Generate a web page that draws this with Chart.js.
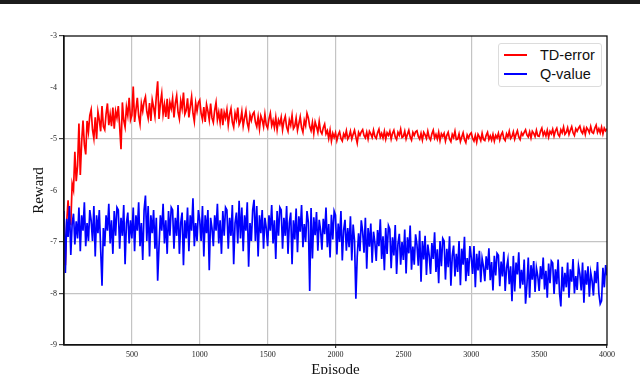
<!DOCTYPE html>
<html>
<head>
<meta charset="utf-8">
<script src="https://cdn.jsdelivr.net/npm/chart.js@4/dist/chart.umd.min.js"></script>
<style>
  body { margin: 0; background: #fff; }
  #wrap { position: relative; width: 640px; height: 374px; overflow: hidden; }
  #topbar { position: absolute; left: 0; top: 0; width: 640px; height: 4px; background: #1c1c1c; }
  #chart { position: absolute; left: 0; top: 0; }
  #legend {
    position: absolute; left: 498px; top: 43px; width: 102px; height: 42px;
    border: 1px solid #dcdcdc; border-radius: 3px; background: #fff;
    font-family: "Liberation Sans", Arial, sans-serif; font-size: 14.5px; color: #111;
  }
  .item { position: absolute; left: 5px; height: 18px; line-height: 18px; }
  .item span.swatch { position: absolute; left: 0; top: 8px; width: 23px; height: 2px; }
  .item span.label { position: absolute; left: 36px; white-space: nowrap; }
</style>
</head>
<body>
<div id="wrap">
  <canvas id="chart" width="640" height="374"></canvas>
  <div id="topbar"></div>
  <div id="legend">
    <div class="item" style="top:2px"><span class="swatch" style="background:#ff0000"></span><span class="label">TD-error</span></div>
    <div class="item" style="top:21px"><span class="swatch" style="background:#0000ff"></span><span class="label">Q-value</span></div>
  </div>
</div>
<script>
// Dados (uma amostra a cada 10 episódios, 0..4000)
const seriesNames = ['TD-error', 'Q-value'];
const episodeStep = 10;

// TD-error (linha vermelha), uma linha = 100 episódios
const tdError = [
  -6.73, -7.45, -6.61, -6.19, -6.63, -6.65, -5.87, -5.99, -5.25, -5.82,
  -5.52, -4.70, -5.70, -5.06, -4.64, -5.11, -5.30, -4.65, -4.86, -4.54,
  -4.43, -4.82, -4.99, -4.58, -5.00, -4.47, -4.63, -4.85, -4.36, -4.76,
  -4.82, -4.51, -4.31, -4.73, -4.52, -4.75, -4.39, -4.80, -4.46, -4.59,
  -4.36, -4.76, -5.20, -4.29, -4.64, -4.77, -4.38, -4.54, -4.20, -4.63,
  -4.54, -3.98, -4.67, -4.43, -4.20, -4.55, -4.71, -4.31, -4.46, -4.27,
  -4.18, -4.47, -4.60, -4.30, -4.65, -4.24, -4.38, -4.56, -4.17, -3.88,
  -4.61, -4.31, -4.12, -4.52, -4.33, -4.57, -4.22, -4.61, -4.29, -4.41,
  -4.21, -4.58, -4.31, -4.16, -4.48, -4.61, -4.26, -4.41, -4.10, -4.52,
  -4.45, -4.21, -4.58, -4.37, -4.18, -4.50, -4.66, -4.30, -4.46, -4.29,
  -4.24, -4.50, -4.62, -4.38, -4.67, -4.33, -4.46, -4.63, -4.31, -4.59,
  -4.68, -4.44, -4.29, -4.63, -4.48, -4.68, -4.41, -4.73, -4.48, -4.59,
  -4.43, -4.73, -4.52, -4.41, -4.67, -4.77, -4.50, -4.62, -4.39, -4.72,
  -4.65, -4.47, -4.75, -4.59, -4.45, -4.69, -4.80, -4.53, -4.64, -4.52,
  -4.48, -4.67, -4.76, -4.57, -4.80, -4.55, -4.63, -4.76, -4.52, -4.73,
  -4.79, -4.61, -4.50, -4.74, -4.64, -4.78, -4.58, -4.82, -4.63, -4.71,
  -4.58, -4.82, -4.65, -4.56, -4.77, -4.85, -4.63, -4.73, -4.54, -4.80,
  -4.75, -4.59, -4.83, -4.70, -4.57, -4.78, -4.87, -4.64, -4.74, -4.50,
  -4.59, -4.76, -4.84, -4.68, -4.89, -4.67, -4.76, -4.87, -4.66, -4.85,
  -4.90, -4.78, -4.71, -4.90, -4.84, -4.99, -4.83, -5.04, -4.89, -4.97,
  -4.88, -5.03, -4.92, -4.86, -4.99, -5.04, -4.90, -4.96, -4.84, -5.00,
  -4.95, -4.85, -5.00, -4.91, -4.83, -4.96, -5.08, -4.87, -4.93, -4.86,
  -4.82, -4.93, -4.98, -4.87, -5.00, -4.85, -4.90, -4.97, -4.83, -4.95,
  -4.99, -4.88, -4.81, -4.96, -4.89, -4.98, -4.85, -5.00, -4.88, -4.93,
  -4.85, -5.00, -4.89, -4.83, -4.96, -5.01, -4.87, -4.93, -4.81, -4.97,
  -4.95, -4.85, -5.00, -4.91, -4.83, -4.96, -5.02, -4.87, -4.93, -4.86,
  -4.84, -4.95, -5.00, -4.89, -5.02, -4.87, -4.92, -4.99, -4.85, -4.97,
  -5.02, -4.90, -4.83, -4.98, -4.91, -5.00, -4.87, -5.03, -4.90, -4.95,
  -4.89, -5.04, -4.93, -4.87, -5.00, -5.05, -4.91, -4.97, -4.85, -5.01,
  -5.00, -4.90, -5.05, -4.96, -4.88, -5.01, -5.07, -4.92, -4.98, -4.91,
  -4.88, -4.99, -5.04, -4.93, -5.06, -4.91, -4.96, -5.03, -4.89, -5.01,
  -5.03, -4.93, -4.87, -5.01, -4.94, -5.02, -4.91, -5.04, -4.93, -4.98,
  -4.89, -5.02, -4.92, -4.87, -4.99, -5.03, -4.90, -4.96, -4.85, -4.99,
  -4.95, -4.86, -5.00, -4.91, -4.84, -4.96, -5.01, -4.88, -4.93, -4.87,
  -4.82, -4.92, -4.96, -4.86, -4.98, -4.85, -4.89, -4.95, -4.83, -4.94,
  -4.95, -4.85, -4.79, -4.93, -4.86, -4.94, -4.83, -4.96, -4.85, -4.90,
  -4.81, -4.94, -4.84, -4.79, -4.91, -4.95, -4.82, -4.88, -4.77, -4.91,
  -4.87, -4.78, -4.91, -4.83, -4.76, -4.88, -4.93, -4.80, -4.85, -4.79,
  -4.75, -4.85, -4.89, -4.79, -4.91, -4.78, -4.82, -4.88, -4.76, -4.87,
  -4.89, -4.79, -4.73, -4.87, -4.80, -4.88, -4.77, -4.90, -4.79, -4.84,
  -4.80
];

// Q-value (linha azul), uma linha = 100 episódios
const qValue = [
  -6.40, -7.60, -6.55, -6.90, -6.30, -7.25, -6.65, -6.45, -7.05, -6.60,
  -6.93, -6.33, -7.18, -6.48, -6.78, -6.23, -7.08, -6.63, -6.98, -6.38,
  -6.58, -6.98, -6.30, -7.28, -6.48, -6.83, -6.38, -7.13, -7.85, -6.73,
  -7.08, -6.48, -6.78, -6.26, -7.03, -6.58, -7.23, -6.40, -6.88, -6.33,
  -6.38, -7.13, -6.53, -6.88, -6.28, -7.43, -6.63, -6.43, -7.03, -6.58,
  -6.93, -6.33, -7.18, -6.48, -6.78, -6.23, -7.08, -6.63, -7.35, -6.38,
  -6.10, -6.98, -6.30, -7.28, -6.48, -6.83, -6.38, -7.13, -6.53, -7.75,
  -7.08, -6.48, -6.78, -6.26, -7.03, -6.58, -7.23, -6.40, -6.88, -6.33,
  -6.38, -7.13, -6.53, -6.88, -6.28, -7.23, -6.63, -6.43, -7.45, -6.58,
  -6.93, -6.33, -7.18, -6.48, -6.78, -6.15, -7.08, -6.63, -6.98, -6.38,
  -6.58, -6.98, -6.30, -7.28, -6.48, -6.83, -6.38, -7.55, -6.53, -6.73,
  -7.08, -6.48, -6.78, -6.26, -7.03, -6.58, -7.23, -6.40, -6.88, -6.33,
  -6.38, -7.13, -6.53, -6.88, -6.28, -7.43, -6.63, -6.43, -7.03, -6.20,
  -6.93, -6.33, -7.18, -6.48, -6.78, -6.23, -7.48, -6.63, -6.98, -6.38,
  -6.18, -6.98, -6.30, -7.28, -6.48, -6.83, -6.38, -7.13, -6.53, -6.73,
  -7.08, -6.48, -6.78, -6.28, -7.03, -6.58, -7.33, -6.40, -6.88, -6.33,
  -6.38, -7.13, -6.53, -6.88, -6.30, -7.23, -6.63, -6.43, -7.43, -6.58,
  -6.95, -6.35, -7.20, -6.50, -6.80, -6.28, -7.10, -6.65, -7.00, -6.40,
  -6.62, -7.95, -6.34, -7.32, -6.52, -6.87, -6.42, -7.17, -6.57, -6.77,
  -7.15, -6.55, -6.85, -6.33, -7.10, -6.65, -7.30, -6.47, -6.95, -6.40,
  -6.48, -7.24, -6.64, -7.00, -6.40, -7.36, -6.77, -6.57, -7.17, -6.73,
  -7.10, -6.50, -7.36, -6.66, -6.97, -8.10, -7.28, -6.83, -7.18, -6.58,
  -6.80, -7.21, -6.53, -7.52, -6.73, -7.09, -6.64, -7.40, -6.80, -7.01,
  -7.37, -6.77, -7.08, -6.56, -7.33, -6.89, -7.55, -6.73, -7.23, -6.68,
  -6.75, -7.51, -6.91, -7.26, -6.67, -7.62, -7.04, -6.84, -7.44, -7.00,
  -7.35, -6.76, -7.61, -6.91, -7.22, -6.68, -7.54, -7.09, -7.44, -6.85,
  -7.05, -7.46, -6.78, -7.77, -6.98, -7.34, -6.88, -7.64, -7.05, -7.26,
  -7.62, -7.02, -7.33, -6.81, -7.58, -7.14, -7.80, -6.98, -7.47, -6.93,
  -6.98, -7.73, -7.13, -7.49, -6.89, -7.85, -7.27, -7.07, -7.67, -7.23,
  -7.58, -6.98, -7.84, -7.13, -7.44, -6.90, -7.76, -7.31, -7.66, -7.08,
  -7.30, -7.62, -7.08, -7.88, -7.23, -7.55, -7.17, -7.78, -7.32, -7.48,
  -7.76, -7.28, -7.54, -7.12, -7.74, -7.39, -7.94, -7.27, -7.65, -7.22,
  -7.26, -7.86, -7.38, -7.67, -7.19, -7.95, -7.50, -7.34, -7.82, -7.47,
  -8.15, -7.27, -7.96, -7.40, -7.63, -7.20, -7.90, -7.54, -7.83, -7.34,
  -8.20, -7.84, -7.30, -8.08, -7.45, -7.73, -7.37, -7.97, -7.50, -7.66,
  -7.95, -7.47, -7.72, -7.30, -7.92, -7.56, -8.08, -7.42, -7.80, -7.37,
  -7.41, -8.01, -7.53, -7.82, -7.34, -7.98, -8.25, -7.48, -7.96, -7.60,
  -7.88, -7.40, -8.08, -7.53, -7.77, -7.33, -8.00, -7.66, -7.93, -7.46,
  -7.62, -7.94, -7.40, -8.18, -7.55, -7.83, -7.47, -8.06, -7.59, -7.75,
  -8.04, -7.56, -7.80, -7.39, -8.00, -8.20, -8.14, -7.50, -7.88, -7.45,
  -7.65
];

// Eixos
const xTicks = [0, 500, 1000, 1500, 2000, 2500, 3000, 3500, 4000];
const xTickLabels = ['', '500', '1000', '1500', '2000', '2500', '3000', '3500', '4000'];
const yTicks = [-3, -4, -5, -6, -7, -8, -9];
const yTickLabels = ['-3', '-4', '-5', '-6', '-7', '-8', '-9'];
const xGridShown = [500, 1000, 1500, 2000, 3000];
const yGridShown = [-5, -7, -8];
const yTickMarks = [-3, -5, -7, -8, -9];

const episodes = tdError.map((_, i) => i * episodeStep);
const toPoints = (vals) => vals.map((v, i) => ({ x: episodes[i], y: v }));

// Moldura preta em volta da área do gráfico
const framePlugin = {
  id: 'frame',
  afterDraw(chart) {
    const { ctx, chartArea: a } = chart;
    ctx.save();
    ctx.strokeStyle = '#111';
    ctx.lineWidth = 1.3;
    ctx.strokeRect(a.left, a.top, a.right - a.left, a.bottom - a.top);
    ctx.restore();
  }
};

const ctx = document.getElementById('chart').getContext('2d');
const chart = new Chart(ctx, {
  type: 'line',
  data: {
    datasets: [
      { label: seriesNames[0], data: toPoints(tdError), borderColor: '#ff0000', borderWidth: 1.7, pointRadius: 0, order: 2 },
      { label: seriesNames[1], data: toPoints(qValue), borderColor: '#0000ff', borderWidth: 1.7, pointRadius: 0, order: 1 }
    ]
  },
  options: {
    responsive: false,
    animation: false,
    layout: { padding: { left: 0, right: 33, top: 36, bottom: 0 } },
    plugins: { legend: { display: false }, tooltip: { enabled: false } },
    scales: {
      x: {
        type: 'linear', min: 0, max: 4000,
        afterBuildTicks: (s) => { s.ticks = xTicks.map(v => ({ value: v })); },
        afterFit: (s) => { s.height = 29; },
        border: { display: true, color: '#111', width: 1.3 },
        grid: {
          color: (c) => xGridShown.includes(c.tick && c.tick.value) ? '#c4c4c4' : 'rgba(0,0,0,0)',
          tickColor: (c) => (c.tick && (c.tick.value === 2000 || c.tick.value === 4000)) ? '#333' : 'rgba(0,0,0,0)',
          tickLength: 3,
          lineWidth: 1.2
        },
        ticks: {
          autoSkip: false, maxRotation: 0, padding: 2,
          color: '#222', font: { family: 'Liberation Serif', size: 8 },
          callback: (v) => xTickLabels[xTicks.indexOf(v)]
        },
        title: {
          display: true, text: 'Episode', color: '#111',
          font: { family: 'Liberation Serif', size: 15 },
          padding: { top: 0, bottom: -5 }
        }
      },
      y: {
        min: -9, max: -3,
        afterBuildTicks: (s) => { s.ticks = yTicks.map(v => ({ value: v })); },
        afterFit: (s) => { s.width = 64; },
        border: { display: true, color: '#111', width: 1.3 },
        grid: {
          color: (c) => yGridShown.includes(c.tick && c.tick.value) ? '#c4c4c4' : 'rgba(0,0,0,0)',
          tickColor: (c) => yTickMarks.includes(c.tick && c.tick.value) ? '#444' : 'rgba(0,0,0,0)',
          tickLength: 5,
          lineWidth: 1.2
        },
        ticks: {
          autoSkip: false, padding: 2,
          color: '#222', font: { family: 'Liberation Serif', size: 8 },
          callback: (v) => yTickLabels[yTicks.indexOf(v)]
        },
        title: {
          display: true, text: 'Reward', color: '#111',
          font: { family: 'Liberation Serif', size: 15 },
          padding: { top: 30, bottom: 0 }
        }
      }
    }
  },
  plugins: [framePlugin]
});
</script>
</body>
</html>
